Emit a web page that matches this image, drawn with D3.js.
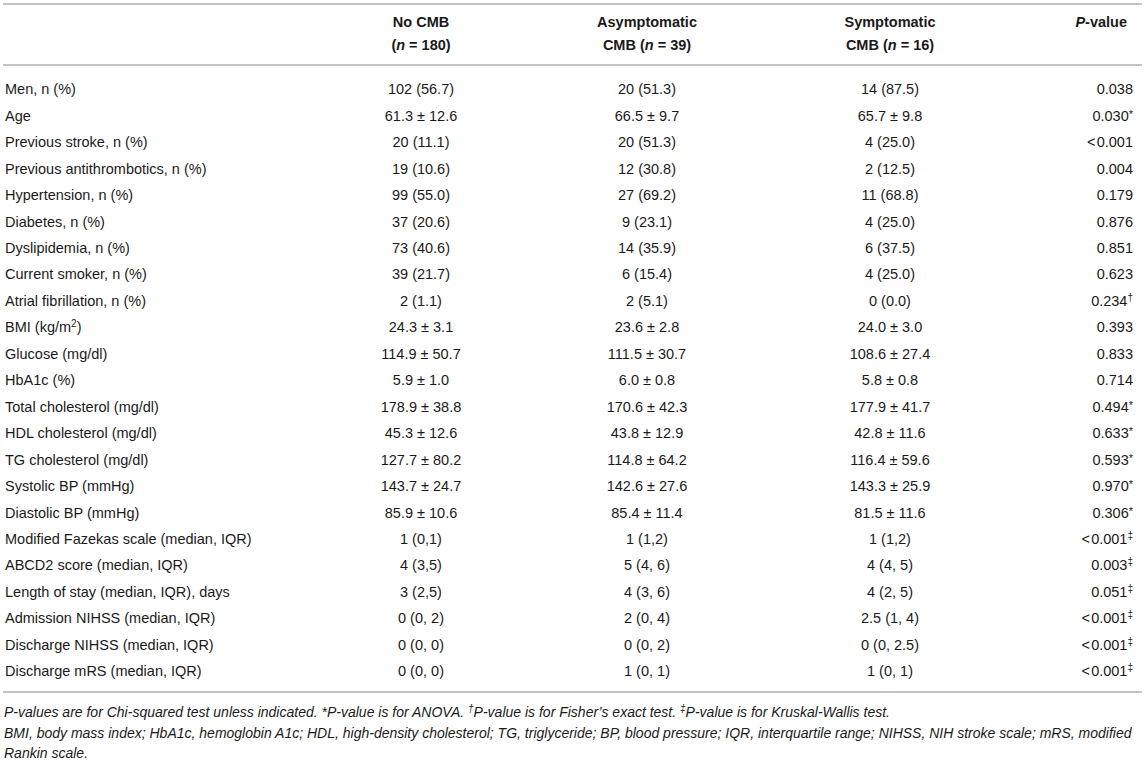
<!DOCTYPE html>
<html>
<head>
<meta charset="utf-8">
<script src="https://cdnjs.cloudflare.com/ajax/libs/d3/7.8.5/d3.min.js"></script>
<style>
  html, body { margin: 0; padding: 0; background: #fff; }
  svg { display: block; font-family: "Liberation Sans", Arial, Helvetica, sans-serif; }
</style>
</head>
<body>
<div id="chart"></div>
<script>
// table contents
var labels = [
  "Men, n (%)", "Age", "Previous stroke, n (%)", "Previous antithrombotics, n (%)",
  "Hypertension, n (%)", "Diabetes, n (%)", "Dyslipidemia, n (%)", "Current smoker, n (%)",
  "Atrial fibrillation, n (%)", "BMI (kg/m|2|)", "Glucose (mg/dl)", "HbA1c (%)",
  "Total cholesterol (mg/dl)", "HDL cholesterol (mg/dl)", "TG cholesterol (mg/dl)",
  "Systolic BP (mmHg)", "Diastolic BP (mmHg)", "Modified Fazekas scale (median, IQR)",
  "ABCD2 score (median, IQR)", "Length of stay (median, IQR), days",
  "Admission NIHSS (median, IQR)", "Discharge NIHSS (median, IQR)", "Discharge mRS (median, IQR)"
];
var noCmb = [
  "102 (56.7)", "61.3 ± 12.6", "20 (11.1)", "19 (10.6)", "99 (55.0)", "37 (20.6)",
  "73 (40.6)", "39 (21.7)", "2 (1.1)", "24.3 ± 3.1", "114.9 ± 50.7", "5.9 ± 1.0",
  "178.9 ± 38.8", "45.3 ± 12.6", "127.7 ± 80.2", "143.7 ± 24.7", "85.9 ± 10.6",
  "1 (0,1)", "4 (3,5)", "3 (2,5)", "0 (0, 2)", "0 (0, 0)", "0 (0, 0)"
];
var asymptomatic = [
  "20 (51.3)", "66.5 ± 9.7", "20 (51.3)", "12 (30.8)", "27 (69.2)", "9 (23.1)",
  "14 (35.9)", "6 (15.4)", "2 (5.1)", "23.6 ± 2.8", "111.5 ± 30.7", "6.0 ± 0.8",
  "170.6 ± 42.3", "43.8 ± 12.9", "114.8 ± 64.2", "142.6 ± 27.6", "85.4 ± 11.4",
  "1 (1,2)", "5 (4, 6)", "4 (3, 6)", "2 (0, 4)", "0 (0, 2)", "1 (0, 1)"
];
var symptomatic = [
  "14 (87.5)", "65.7 ± 9.8", "4 (25.0)", "2 (12.5)", "11 (68.8)", "4 (25.0)",
  "6 (37.5)", "4 (25.0)", "0 (0.0)", "24.0 ± 3.0", "108.6 ± 27.4", "5.8 ± 0.8",
  "177.9 ± 41.7", "42.8 ± 11.6", "116.4 ± 59.6", "143.3 ± 25.9", "81.5 ± 11.6",
  "1 (1,2)", "4 (4, 5)", "4 (2, 5)", "2.5 (1, 4)", "0 (0, 2.5)", "1 (0, 1)"
];
var pValues = [
  "0.038", "0.030", "<\u200a0.001", "0.004", "0.179", "0.876", "0.851", "0.623",
  "0.234", "0.393", "0.833", "0.714", "0.494", "0.633", "0.593", "0.970", "0.306",
  "<\u200a0.001", "0.003", "0.051", "<\u200a0.001", "<\u200a0.001", "<\u200a0.001"
];
var pMarks = [
  "", "*", "", "", "", "", "", "", "\u2020", "", "", "", "*", "*", "*", "*", "*",
  "\u2021", "\u2021", "\u2021", "\u2021", "\u2021", "\u2021"
];
// header lines: [text, italic] pieces
var headers = [
  { key: "noCmb", lines: [[["No CMB", false]], [["(", false], ["n", true], [" = 180)", false]]] },
  { key: "asym", lines: [[["Asymptomatic", false]], [["CMB (", false], ["n", true], [" = 39)", false]]] },
  { key: "sym", lines: [[["Symptomatic", false]], [["CMB (", false], ["n", true], [" = 16)", false]]] },
  { key: "p", lines: [[["P", true], ["-value", false]]] }
];
var footnotes = [
  [["P-values are for Chi-squared test unless indicated. *P-value is for ANOVA. ", ""], ["\u2020", "sup"], ["P-value is for Fisher\u2019s exact test. ", ""], ["\u2021", "sup"], ["P-value is for Kruskal-Wallis test.", ""]],
  [["BMI, body mass index; HbA1c, hemoglobin A1c; HDL, high-density cholesterol; TG, triglyceride; BP, blood pressure; IQR, interquartile range; NIHSS, NIH stroke scale; mRS, modified", ""]],
  [["Rankin scale.", ""]]
];

var width = 1145, height = 769;
var textColor = "#1a1a1a", ruleColor = "#b0b0b0";
var fs = 14.5;

var svg = d3.select("#chart").append("svg")
  .attr("width", width).attr("height", height);

// column centre / anchor positions
var colX = d3.scaleOrdinal()
  .domain(["noCmb", "asym", "sym", "p"])
  .range([421, 647, 890, 1133]);
var colAnchor = function (k) { return k === "p" ? "end" : "middle"; };

var y = d3.scaleBand()
  .domain(d3.range(labels.length))
  .range([76, 76 + 26.45 * labels.length]);

// rules
var rules = [4, 65, 692];
svg.selectAll("line.rule")
  .data(rules).enter().append("line")
  .attr("class", "rule")
  .attr("x1", 3).attr("x2", 1142)
  .attr("y1", function (d) { return d; }).attr("y2", function (d) { return d; })
  .style("stroke", ruleColor).style("stroke-width", 1.6);

// header
var hy = [22, 45];
headers.forEach(function (h) {
  h.lines.forEach(function (parts, li) {
    var t = svg.append("text")
      .attr("x", h.key === "p" ? 1127 : colX(h.key))
      .attr("y", hy[li]).attr("dy", "0.35em")
      .attr("text-anchor", colAnchor(h.key))
      .style("font-weight", "bold").style("font-size", fs + "px")
      .style("fill", textColor);
    parts.forEach(function (p) {
      t.append("tspan").text(p[0]).style("font-style", p[1] ? "italic" : "normal");
    });
  });
});

// body rows
var rows = svg.selectAll("g.row")
  .data(labels.map(function (l, i) { return i; }))
  .enter().append("g")
  .attr("class", "row")
  .attr("transform", function (i) { return "translate(0," + (y(i) + y.bandwidth() / 2) + ")"; })
  .style("font-size", fs + "px").style("fill", textColor);

rows.append("text")
  .attr("x", 5).attr("dy", "0.35em")
  .each(function (i) {
    var parts = labels[i].split("|");
    var t = d3.select(this);
    parts.forEach(function (p, j) {
      var s = t.append("tspan").text(p);
      if (j === 1) s.attr("baseline-shift", "super").style("font-size", "10px");
    });
  });

[["noCmb", noCmb], ["asym", asymptomatic], ["sym", symptomatic]].forEach(function (c) {
  rows.append("text")
    .attr("x", colX(c[0])).attr("dy", "0.35em")
    .attr("text-anchor", "middle")
    .text(function (i) { return c[1][i]; });
});

rows.append("text")
  .attr("x", colX("p")).attr("dy", "0.35em")
  .attr("text-anchor", "end")
  .each(function (i) {
    var t = d3.select(this);
    t.append("tspan").text(pValues[i]);
    if (pMarks[i]) {
      t.append("tspan").text(pMarks[i])
        .attr("baseline-shift", pMarks[i] === "*" ? "25%" : "super")
        .style("font-size", pMarks[i] === "*" ? "11px" : "10px");
    }
  });

// footnotes
var fy = [712, 733, 753];
footnotes.forEach(function (parts, li) {
  var t = svg.append("text")
    .attr("x", 4).attr("y", fy[li]).attr("dy", "0.35em")
    .style("font-style", "italic").style("font-size", "14px")
    .style("fill", textColor);
  parts.forEach(function (p) {
    var s = t.append("tspan").text(p[0]);
    if (p[1] === "sup") s.attr("baseline-shift", "super").style("font-size", "10px");
  });
});
</script>
</body>
</html>
